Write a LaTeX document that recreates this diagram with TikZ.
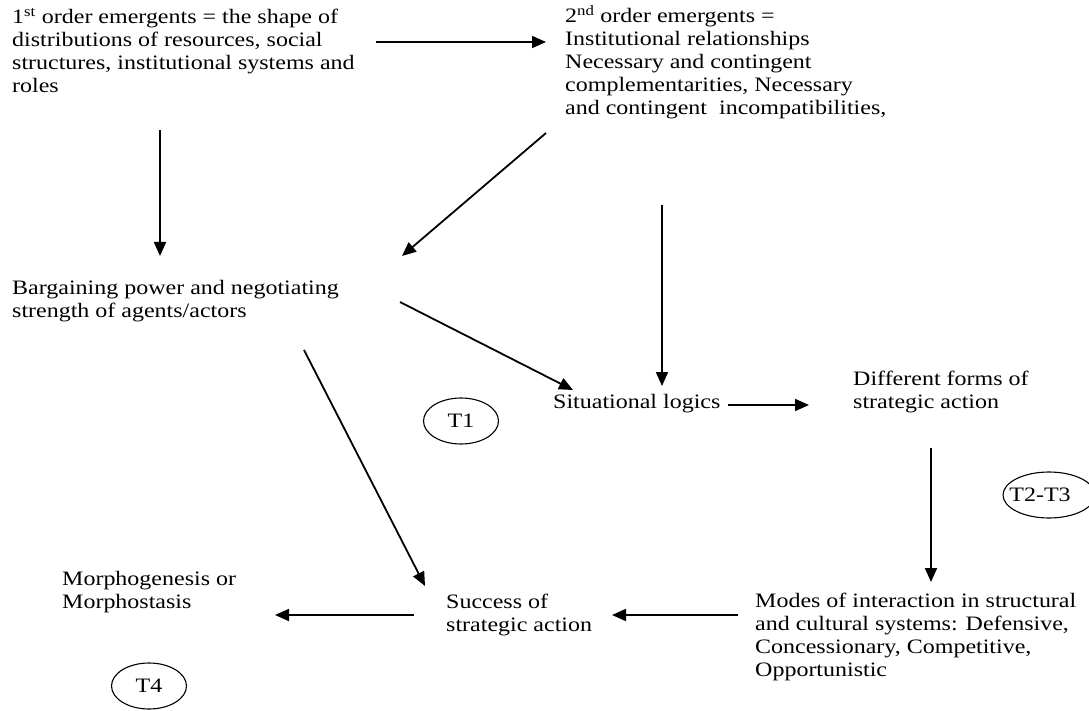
\documentclass[tikz,border=0pt]{standalone}
\usepackage{fontspec}
\setmainfont[FakeStretch=1.17]{Liberation Serif}
\usetikzlibrary{arrows.meta,shapes.geometric}
\tikzset{
  lbl/.style={anchor=base west, inner sep=0pt, align=left,
    font=\fontsize{20.5}{23}\selectfont},
  arr/.style={line width=1.8pt, -{Triangle[length=14pt,width=12pt]}},
  tag/.style={ellipse, draw, line width=1.1pt, inner sep=0pt,
    minimum width=75pt, minimum height=46pt,
    font=\fontsize{20.5}{23}\selectfont}
}
\begin{document}
\begin{tikzpicture}[x=1pt,y=-1pt]
\useasboundingbox (0,0) rectangle (1089,711);

% text blocks (each anchored at the baseline of its last line)
\node[lbl] (first) at (12,93) {1\textsuperscript{st} order emergents = the shape of\\distributions of resources, social\\structures, institutional systems and\\roles};
\node[lbl] (second) at (565,115) {2\textsuperscript{nd} order emergents =\\Institutional relationships\\Necessary and contingent\\complementarities, Necessary\\and contingent\ \ incompatibilities,};
\node[lbl] (bargain) at (12,317) {Bargaining power and negotiating\\strength of agents/actors};
\node[lbl] (situ) at (553,408) {Situational logics};
\node[lbl] (forms) at (853,408) {Different forms of\\strategic action};
\node[lbl] (morph) at (62,608) {Morphogenesis or\\Morphostasis};
\node[lbl] (success) at (446,631) {Success of\\strategic action};
\node[lbl] (modes) at (755,676) {Modes of interaction in structural\\and cultural systems: Defensive,\\Concessionary, Competitive,\\Opportunistic};

% phase markers
\node[tag] (t1) at (461,421) {T1};
\node[tag, minimum width=92pt] (t23) at (1049,495) {\hspace*{-18pt}T2-T3};
\node[tag] (t4) at (149,686) {T4};

% connector end points
\coordinate (firstR) at (376,42);
\coordinate (secondL) at (546,42);
\coordinate (firstB) at (160,130);
\coordinate (bargainT) at (160,256);
\coordinate (secondB) at (546,133);
\coordinate (bargainTR) at (402,256);
\coordinate (secondBB) at (662,205);
\coordinate (situT) at (662,386);
\coordinate (bargainR) at (400,302);
\coordinate (situL) at (573,390);
\coordinate (situR) at (728,405);
\coordinate (formsL) at (809,405);
\coordinate (formsB) at (931,448);
\coordinate (modesT) at (931,582);
\coordinate (bargainB) at (304,350);
\coordinate (successL) at (425,586);
\coordinate (modesL) at (738,615);
\coordinate (successR) at (612,615);
\coordinate (successLL) at (414,615);
\coordinate (morphR) at (275,615);

% connectors
\draw[arr] (firstR) -- (secondL);
\draw[arr] (firstB) -- (bargainT);
\draw[arr] (secondB) -- (bargainTR);
\draw[arr] (secondBB) -- (situT);
\draw[arr] (bargainR) -- (situL);
\draw[arr] (situR) -- (formsL);
\draw[arr] (formsB) -- (modesT);
\draw[arr] (bargainB) -- (successL);
\draw[arr] (modesL) -- (successR);
\draw[arr] (successLL) -- (morphR);
\end{tikzpicture}
\end{document}
